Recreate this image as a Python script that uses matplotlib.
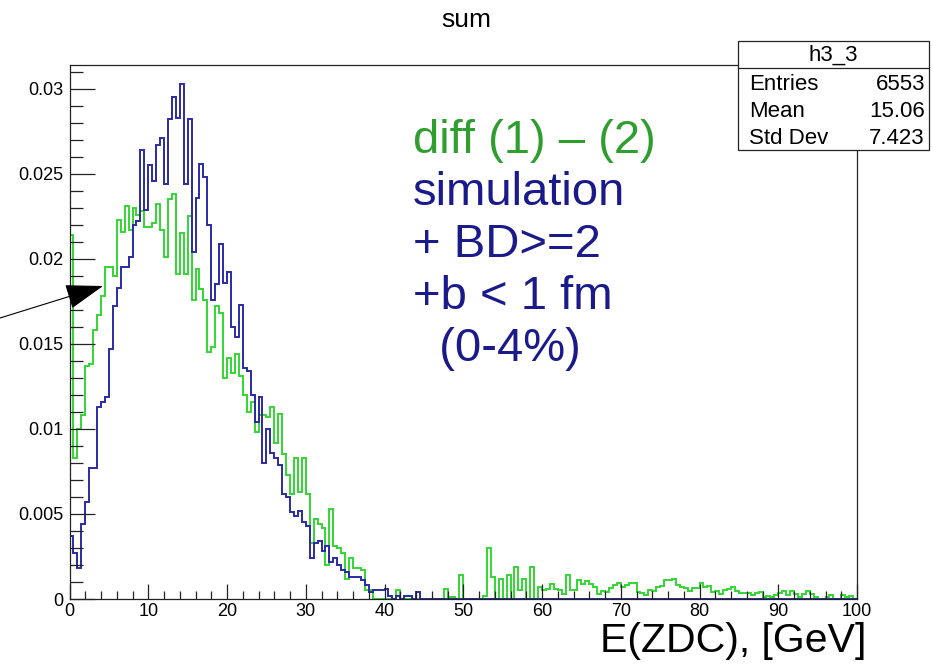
import matplotlib
matplotlib.use("Agg")
import matplotlib.pyplot as plt
import numpy as np
from matplotlib.ticker import MultipleLocator, FuncFormatter
from matplotlib.patches import Rectangle
from matplotlib.lines import Line2D

plt.rcParams['font.family'] = ['Liberation Sans', 'DejaVu Sans']

# histogram: 200 bins of 0.5 GeV, contents in units of 1e-3
n_bins = 200
e_min, e_max = 0.0, 100.0

diff_vals = [
    21.4, 8.3, 10.0, 10.8, 13.7, 13.8, 15.8, 16.7, 17.8, 19.5,
    19.5, 19.0, 22.3, 21.6, 23.1, 21.7, 23.0, 22.6, 22.8, 21.9,
    21.9, 22.1, 23.2, 21.7, 20.1, 23.5, 23.8, 19.1, 21.5, 19.1,
    22.5, 17.6, 19.4, 18.2, 17.6, 14.5, 14.8, 17.2, 16.8, 13.0,
    14.2, 13.3, 14.4, 13.1, 12.0, 11.0, 11.6, 9.8, 10.8, 10.8,
    10.7, 11.3, 9.2, 10.9, 8.5, 7.3, 6.2, 8.3, 6.3, 8.3,
    6.2, 3.3, 4.7, 4.4, 4.2, 2.0, 5.3, 3.1, 3.0, 2.7,
    1.2, 2.4, 1.8, 1.8, 1.7, 0.5, 0.5, 0.0, 0.0, 0.0,
    0.0, 0.0, 0.0, 0.5, 0.0, 0.0, 0.0, 0.0, 0.0, 0.0,
    0.0, 0.0, 0.0, 0.0, 0.0, 0.57, 0.1, 0.1, 0.0, 1.4,
    0.0, 0.0, 0.0, 0.0, 0.0, 0.2, 3.0, 1.3, 0.0, 1.15,
    0.0, 1.4, 0.0, 1.9, 0.5, 1.15, 0.0, 1.9, 0.0, 0.7,
    0.5, 0.6, 0.9, 0.6, 0.55, 0.3, 1.4, 0.55, 0.5, 1.1,
    0.9, 1.05, 0.9, 0.7, 0.3, 0.49, 0.40, 0.62, 0.82, 0.92,
    0.68, 0.82, 0.92, 0.92, 0.43, 0.33, 0.23, 0.53, 0.49, 0.68,
    0.76, 1.11, 1.11, 1.15, 0.82, 0.68, 0.62, 0.49, 0.62, 0.62,
    0.92, 0.68, 0.76, 0.43, 0.49, 0.27, 0.53, 0.57, 0.68, 0.49,
    0.37, 0.33, 0.37, 0.23, 0.37, 0.43, 0.14, 0.20, 0.14, 0.23,
    0.37, 0.49, 0.23, 0.49, 0.27, 0.14, 0.27, 0.49, 0.27, 0.14,
    0.0, 0.0, 0.14, 0.23, 0.0, 0.0, 0.23, 0.14, 0.18, 0.0,
]

sim_vals = [
    3.7, 2.7, 1.8, 4.4, 5.7, 7.7, 7.7, 11.3, 11.6, 11.9,
    14.7, 17.2, 18.3, 19.5, 19.5, 20.1, 22.0, 22.2, 26.4, 22.9,
    25.5, 24.6, 26.7, 27.1, 24.4, 28.2, 29.5, 28.3, 30.3, 24.4,
    28.2, 20.4, 23.6, 25.6, 24.8, 22.0, 17.6, 18.5, 20.9, 18.6,
    19.2, 16.0, 15.4, 17.3, 13.6, 13.4, 12.0, 10.4, 11.9, 8.0,
    10.0, 8.6, 8.3, 7.9, 6.2, 6.0, 5.1, 4.9, 5.2, 4.5,
    4.3, 2.4, 3.3, 3.4, 2.8, 3.1, 2.2, 2.4, 2.0, 1.7,
    1.6, 1.3, 1.3, 1.3, 1.1, 0.8, 0.4, 0.5, 0.5, 0.5,
    0.6, 0.2, 0.0, 0.2, 0.0, 0.2, 0.2, 0.0, 0.4, 0.0,
] + [0.0] * 110

stats_rows = [("Entries", "6553"), ("Mean", "15.06"), ("Std Dev", "7.423")]
note_lines = ["diff (1) \u2013 (2)", "simulation", "+ BD>=2", "+b < 1 fm", "  (0-4%)"]

edges = np.linspace(e_min, e_max, n_bins + 1)
diff = np.array(diff_vals) * 1e-3
sim = np.array(sim_vals) * 1e-3

W, H = 933, 667
fig = plt.figure(figsize=(W / 100, H / 100), dpi=100)


def fx(x):
    return x / W


def fy(y):
    return 1 - y / H


ax = fig.add_axes([fx(69.5), fy(599), (857 - 69.5) / W, (599 - 65) / H])

line_green = "#33d633"
line_blue = "#2a2aa5"
ax.stairs(diff, edges, color=line_green, lw=1.4, baseline=0)
ax.stairs(sim, edges, color=line_blue, lw=1.4, baseline=0)

ax.set_xlim(e_min, e_max)
ax.set_ylim(0, 0.0314)

ax.xaxis.set_major_locator(MultipleLocator(10))
ax.xaxis.set_minor_locator(MultipleLocator(2))
ax.yaxis.set_major_locator(MultipleLocator(0.005))
ax.yaxis.set_minor_locator(MultipleLocator(0.001))
ax.yaxis.set_major_formatter(FuncFormatter(lambda v, p: "%g" % round(v, 4)))

ax.tick_params(which="both", direction="in", top=False, right=False,
               color="#222222", width=0.9, labelsize=13)
ax.tick_params(axis="y", which="major", length=18, pad=4.5)
ax.tick_params(axis="y", which="minor", length=9)
ax.tick_params(axis="x", which="major", length=11, pad=3)
ax.tick_params(axis="x", which="minor", length=5.5)
for s in ax.spines.values():
    s.set_linewidth(0.9)
    s.set_color("#222222")

# title and axis label
fig.text(fx(466), fy(27), "sum", ha="center", va="baseline", fontsize=19)
fig.text(fx(866), fy(652), "E(ZDC), [GeV]", ha="right", va="baseline", fontsize=29.5)

# stats box
box = Rectangle((fx(738), fy(150)), 191 / W, 109 / H, transform=fig.transFigure,
                facecolor="white", edgecolor="#222222", lw=0.9, zorder=5)
fig.add_artist(box)
fig.add_artist(Line2D([fx(738), fx(929)], [fy(68), fy(68)], transform=fig.transFigure,
                      color="#222222", lw=0.9, zorder=6))
fig.text(fx(833), fy(61), "h3_3", ha="center", va="baseline", fontsize=16, zorder=7)
for i, (name, val) in enumerate(stats_rows):
    yb = 90 + 27 * i
    fig.text(fx(749), fy(yb), name, ha="left", va="baseline", fontsize=16, zorder=7)
    fig.text(fx(925), fy(yb), val, ha="right", va="baseline", fontsize=16, zorder=7)

# annotation text block
text_colors = ["#2e9e2e", "#1a1a8a", "#1a1a8a", "#1a1a8a", "#1a1a8a"]
for i, (txt, c) in enumerate(zip(note_lines, text_colors)):
    fig.text(fx(413), fy(153 + 52 * i), txt, ha="left", va="baseline",
             fontsize=34, color=c)

# arrow pointing at the rising edge
ax.annotate("", xy=(103, H - 286), xycoords="figure pixels",
            xytext=(0, H - 318), textcoords="figure pixels",
            arrowprops=dict(arrowstyle="-|>,head_length=1.2,head_width=0.4",
                            mutation_scale=20, lw=0.8, color="black",
                            shrinkA=0, shrinkB=0),
            annotation_clip=False)

fig.savefig("out.png", dpi=100)
